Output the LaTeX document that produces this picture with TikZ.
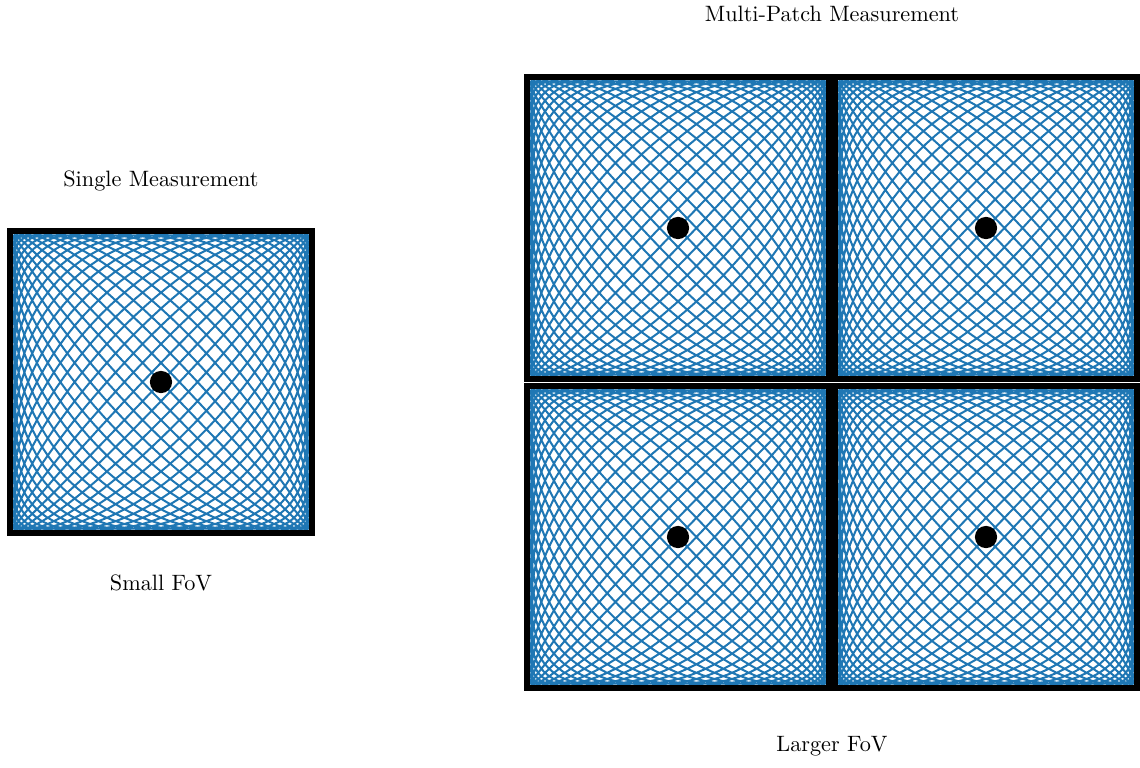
\documentclass[tikz,border=0pt]{standalone}
\usepackage{tikz}
\usetikzlibrary{positioning}
\definecolor{TrajBlue}{HTML}{1F77B4}
\tikzset{
  frame/.style={draw=black, line width=2.7pt, minimum size=302*0.45pt, inner sep=0pt},
  ffp/.style={circle, fill=black, minimum size=10pt, inner sep=0pt},
  caption/.style={font=\normalsize, inner sep=1pt},
  traj/.style={draw=TrajBlue, line width=0.9pt, line join=round},
  lissa/.pic={
    \draw[traj] plot[domain=0:360, samples=2200, variable=\t]
      ({147*sin(24*\t)}, {147*sin(25*\t)});
  }
}
\begin{document}
\begin{tikzpicture}[x=0.45pt, y=-0.45pt]
  \useasboundingbox (0,0) rectangle (1140,767);
  % single patch
  \pic at (161,382) {lissa};
  \node[frame] (single) at (161,382) {};
  \node[ffp] (ffp0) at (single.center) {};
  \node[caption] (singletitle) at (161,181) {Single Measurement};
  \node[caption] (smallfov) at (161,583) {Small FoV};
  % multi-patch, 2x2
  \foreach \cx/\cy/\n in {678/228/1, 986/228/2, 678/537/3, 986/537/4}{
    \pic at (\cx,\cy) {lissa};
    \node[frame] (patch\n) at (\cx,\cy) {};
    \node[ffp] (ffp\n) at (patch\n.center) {};
  }
  \node[caption] (multititle) at (832,14) {Multi-Patch Measurement};
  \node[caption] (largefov) at (832,746) {Larger FoV};
\end{tikzpicture}
\end{document}
